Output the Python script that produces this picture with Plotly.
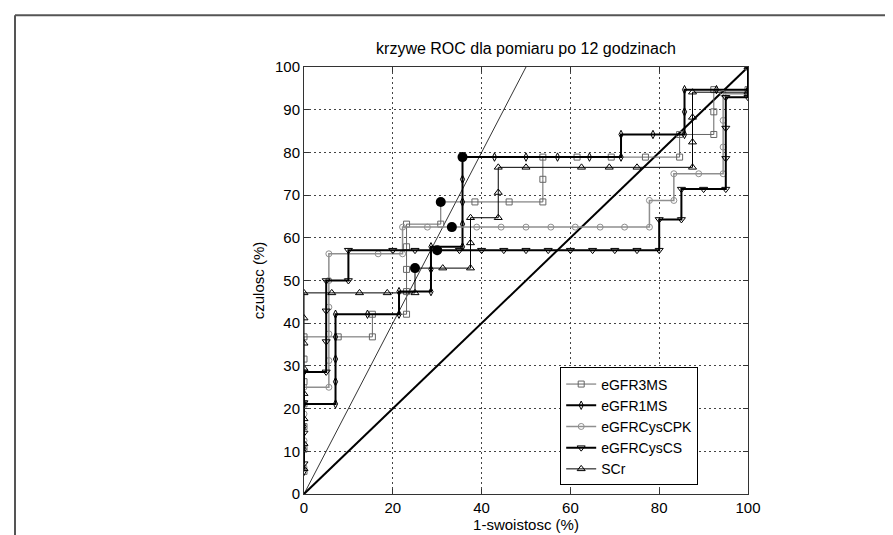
import plotly.graph_objects as go

# ---- data ----
x_3ms = [0, 0, 0, 0, 0, 0, 0, 7.7, 15.4, 15.4, 23.1, 23.1, 23.1, 23.1, 23.1, 30.8, 30.8,
         38.5, 46.2, 53.8, 53.8, 53.8, 61.5, 69.2, 76.9, 84.6, 84.6, 92.3, 92.3, 92.3, 100, 100]
y_3ms = [5.3, 10.5, 15.8, 21.1, 26.3, 31.6, 36.8, 36.8, 36.8, 42.1, 42.1, 47.4, 52.6, 57.9, 63.2, 63.2, 68.4,
         68.4, 68.4, 68.4, 73.7, 78.9, 78.9, 78.9, 78.9, 78.9, 84.2, 84.2, 89.5, 94.7, 94.7, 100]

x_1ms = [0, 0, 0, 0, 7.1, 7.1, 7.1, 7.1, 7.1, 14.3, 21.4, 21.4, 28.6, 28.6, 28.6,
         35.7, 35.7, 35.7, 35.7, 35.7, 42.9, 50, 57.1, 64.3, 71.4, 71.4, 78.6, 85.7, 85.7, 85.7, 92.9, 100, 100]
y_1ms = [5.3, 10.5, 15.8, 21.1, 21.1, 26.3, 31.6, 36.8, 42.1, 42.1, 42.1, 47.4, 47.4, 52.6, 57.9,
         57.9, 63.2, 68.4, 73.7, 78.9, 78.9, 78.9, 78.9, 78.9, 78.9, 84.2, 84.2, 84.2, 89.5, 94.7, 94.7, 94.7, 100]

x_cpk = [0, 0, 0, 0, 5.6, 5.6, 5.6, 5.6, 5.6, 5.6, 16.7, 22.2, 22.2, 27.8, 33.3, 38.9, 44.4, 50, 55.6,
         61.1, 66.7, 72.2, 77.8, 77.8, 83.3, 83.3, 88.9, 94.4, 94.4, 94.4, 94.4, 100, 100]
y_cpk = [6.25, 12.5, 18.75, 25, 25, 31.25, 37.5, 43.75, 50, 56.25, 56.25, 56.25, 62.5, 62.5, 62.5, 62.5, 62.5, 62.5, 62.5,
         62.5, 62.5, 62.5, 62.5, 68.75, 68.75, 75, 75, 75, 81.25, 87.5, 93.75, 93.75, 100]

x_cs = [0, 0, 0, 0, 5, 5, 5, 5, 10, 10, 20, 25, 30, 35, 40, 45, 50, 55, 60, 65, 70, 75, 80, 80,
        85, 85, 90, 95, 95, 95, 95, 100, 100]
y_cs = [7.1, 14.3, 21.4, 28.6, 28.6, 35.7, 42.9, 50, 50, 57.1, 57.1, 57.1, 57.1, 57.1, 57.1, 57.1, 57.1, 57.1,
        57.1, 57.1, 57.1, 57.1, 57.1, 64.3, 64.3, 71.4, 71.4, 71.4, 78.6, 85.7, 92.9, 92.9, 100]

x_scr = [0, 0, 0, 0, 0, 0, 0, 0, 6.25, 12.5, 18.75, 25, 25, 31.25, 37.5, 37.5, 37.5,
         43.75, 43.75, 43.75, 50, 62.5, 68.75, 75, 87.5, 87.5, 87.5, 87.5, 100, 100]
y_scr = [5.9, 11.8, 17.6, 23.5, 29.4, 35.3, 41.2, 47.1, 47.1, 47.1, 47.1, 47.1, 52.9, 52.9, 52.9, 58.8, 64.7,
         64.7, 70.6, 76.5, 76.5, 76.5, 76.5, 76.5, 76.5, 82.4, 88.2, 94.1, 94.1, 100]

x_opt = [35.7, 30.8, 33.3, 30, 25]
y_opt = [78.9, 68.4, 62.5, 57.1, 52.9]

x_ref = [0, 100]
y_ref = [0, 100]
x_thin = [0, 50]
y_thin = [0, 100]

x_ticks = [0, 20, 40, 60, 80, 100]
y_ticks = [0, 10, 20, 30, 40, 50, 60, 70, 80, 90, 100]

title_text = "krzywe ROC dla pomiaru po 12 godzinach"
x_title = "1-swoistosc (%)"
y_title = "czulosc (%)"

FONT = "Arial, Liberation Sans, sans-serif"

fig = go.Figure()

fig.add_trace(go.Scatter(x=x_thin, y=y_thin, mode="lines", line=dict(color="black", width=0.8),
                         showlegend=False, hoverinfo="skip"))
fig.add_trace(go.Scatter(x=x_ref, y=y_ref, mode="lines", line=dict(color="black", width=2),
                         showlegend=False, hoverinfo="skip"))

series = [
    ("eGFR3MS", x_3ms, y_3ms, "#666666", 1.0, "square-open", 6),
    ("eGFR1MS", x_1ms, y_1ms, "black", 2.0, "diamond-tall-open", 6),
    ("eGFRCysCPK", x_cpk, y_cpk, "#8f8f8f", 1.5, "circle-open", 6),
    ("eGFRCysCS", x_cs, y_cs, "black", 2.0, "triangle-down-open", 7),
    ("SCr", x_scr, y_scr, "black", 1.0, "triangle-up-open", 7),
]
for name, xs, ys, col, w, sym, sz in series:
    fig.add_trace(go.Scatter(x=xs, y=ys, mode="lines+markers", name=name,
                             line=dict(color=col, width=w),
                             marker=dict(symbol=sym, size=sz, color=col, line=dict(color=col, width=1))))

fig.add_trace(go.Scatter(x=x_opt, y=y_opt, mode="markers", showlegend=False,
                         marker=dict(symbol="circle", size=10, color="black")))

axis_common = dict(
    showline=True, linecolor="#333333", linewidth=1, mirror="ticks",
    ticks="inside", ticklen=5, tickcolor="#333333",
    showgrid=True, gridcolor="#444444", gridwidth=1, griddash="2px,3px",
    zeroline=False, tickfont=dict(family=FONT, size=15, color="black"),
)

fig.update_layout(
    width=893, height=535,
    margin=dict(l=296, r=153, t=59, b=47),
    paper_bgcolor="white", plot_bgcolor="white",
    font=dict(family=FONT, size=15, color="black"),
    title=dict(text=title_text, x=0.58, xanchor="center", y=1 - 40 / 535, yanchor="middle",
               font=dict(family=FONT, size=16, color="black")),
    xaxis=dict(range=[0, 100], tickvals=x_ticks, title=dict(text=x_title, standoff=4,
               font=dict(family=FONT, size=15)), **axis_common),
    yaxis=dict(range=[0, 100], tickvals=y_ticks, title=dict(text=y_title, standoff=6,
               font=dict(family=FONT, size=15)), **axis_common),
    legend=dict(x=0.577, y=0.02, xanchor="left", yanchor="bottom",
                bgcolor="white", bordercolor="black", borderwidth=1,
                font=dict(family=FONT, size=14, color="black"), itemwidth=30),
    shapes=[
        dict(type="line", xref="paper", yref="paper", x0=(7 - 296) / 444, x1=(893 - 296) / 444,
             y0=(488 - 7) / 429, y1=(488 - 7) / 429, line=dict(color="#555555", width=2)),
        dict(type="line", xref="paper", yref="paper", x0=(7 - 296) / 444, x1=(7 - 296) / 444,
             y0=(488 - 7) / 429, y1=(488 - 535) / 429, line=dict(color="#555555", width=2)),
    ],
)

fig.write_html("out.html")
